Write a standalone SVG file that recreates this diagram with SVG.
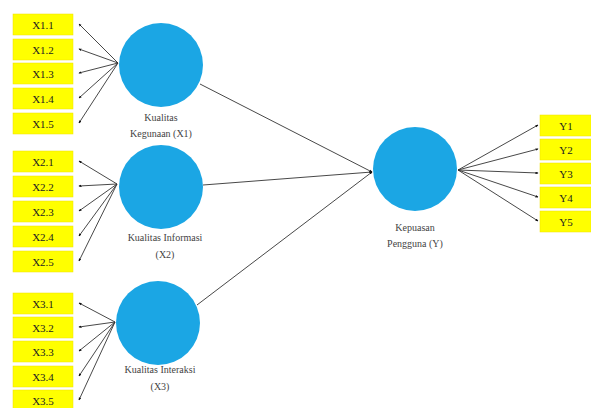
<svg xmlns="http://www.w3.org/2000/svg" width="591" height="408" viewBox="0 0 591 408">
<defs>
<marker id="dot" viewBox="0 0 10 10" refX="8" refY="5" markerWidth="3.5" markerHeight="3.5" orient="auto"><path d="M0,1 L10,5 L0,9 Z" fill="#111"/></marker>
<style>
.box{fill:#FFFF00;stroke:#F0E000;stroke-width:0.5}
.lv{fill:#1BA6E4}
.bt{font-family:'Liberation Serif','Times New Roman','DejaVu Serif',serif;font-size:11px;fill:#222;text-anchor:middle;dominant-baseline:central}
.lt{font-family:'Liberation Serif','Times New Roman','DejaVu Serif',serif;font-size:10px;fill:#444;text-anchor:middle}
.ln{stroke:#333;stroke-width:0.9;fill:none;marker-end:url(#dot)}
</style>
</defs>
<rect width="591" height="408" fill="#fff"/>
<g id="connectors">
<path class="ln" d="M118,63 L79,24"/>
<path class="ln" d="M118,63 L79,49"/>
<path class="ln" d="M118,63 L79,73"/>
<path class="ln" d="M118,63 L79,98"/>
<path class="ln" d="M118,63 L79,123"/>
<path class="ln" d="M117,184 L79,161"/>
<path class="ln" d="M117,184 L79,186"/>
<path class="ln" d="M117,184 L79,211"/>
<path class="ln" d="M117,184 L79,236"/>
<path class="ln" d="M117,184 L79,261"/>
<path class="ln" d="M115,322 L79,303"/>
<path class="ln" d="M115,322 L79,327"/>
<path class="ln" d="M115,322 L79,351"/>
<path class="ln" d="M115,322 L79,376"/>
<path class="ln" d="M115,322 L79,400"/>
<path class="ln" d="M200,84 L372,172"/>
<path class="ln" d="M203,185 L372,172"/>
<path class="ln" d="M197,305 L372,172"/>
<path class="ln" d="M458,170 L538,125"/>
<path class="ln" d="M458,170 L538,149"/>
<path class="ln" d="M458,170 L538,173"/>
<path class="ln" d="M458,170 L538,197"/>
<path class="ln" d="M458,170 L538,221"/>
</g>
<g id="X1">
<circle class="lv" cx="161" cy="65" r="42"/>
<text class="lt" x="161" y="121">Kualitas</text>
<text class="lt" x="161" y="137">Kegunaan (X1)</text>
</g>
<g id="X2">
<circle class="lv" cx="161" cy="187" r="42"/>
<text class="lt" x="165" y="241">Kualitas Informasi</text>
<text class="lt" x="165" y="258">(X2)</text>
</g>
<g id="X3">
<circle class="lv" cx="158" cy="323" r="42"/>
<text class="lt" x="160" y="373">Kualitas Interaksi</text>
<text class="lt" x="160" y="390">(X3)</text>
</g>
<g id="Y">
<circle class="lv" cx="415" cy="169" r="42"/>
<text class="lt" x="415" y="231">Kepuasan</text>
<text class="lt" x="415" y="247">Pengguna (Y)</text>
</g>
<g id="X1.1"><rect class="box" x="13" y="14" width="60" height="21"/><text class="bt" x="43" y="24.5">X1.1</text></g>
<g id="X1.2"><rect class="box" x="13" y="39" width="60" height="21"/><text class="bt" x="43" y="49.5">X1.2</text></g>
<g id="X1.3"><rect class="box" x="13" y="63" width="60" height="21"/><text class="bt" x="43" y="73.5">X1.3</text></g>
<g id="X1.4"><rect class="box" x="13" y="88" width="60" height="21"/><text class="bt" x="43" y="98.5">X1.4</text></g>
<g id="X1.5"><rect class="box" x="13" y="113" width="60" height="21"/><text class="bt" x="43" y="123.5">X1.5</text></g>
<g id="X2.1"><rect class="box" x="13" y="151" width="60" height="21"/><text class="bt" x="43" y="161.5">X2.1</text></g>
<g id="X2.2"><rect class="box" x="13" y="176" width="60" height="21"/><text class="bt" x="43" y="186.5">X2.2</text></g>
<g id="X2.3"><rect class="box" x="13" y="201" width="60" height="21"/><text class="bt" x="43" y="211.5">X2.3</text></g>
<g id="X2.4"><rect class="box" x="13" y="226" width="60" height="21"/><text class="bt" x="43" y="236.5">X2.4</text></g>
<g id="X2.5"><rect class="box" x="13" y="251" width="60" height="21"/><text class="bt" x="43" y="261.5">X2.5</text></g>
<g id="X3.1"><rect class="box" x="13" y="293" width="60" height="21"/><text class="bt" x="43" y="303.5">X3.1</text></g>
<g id="X3.2"><rect class="box" x="13" y="317" width="60" height="21"/><text class="bt" x="43" y="327.5">X3.2</text></g>
<g id="X3.3"><rect class="box" x="13" y="341" width="60" height="21"/><text class="bt" x="43" y="351.5">X3.3</text></g>
<g id="X3.4"><rect class="box" x="13" y="366" width="60" height="21"/><text class="bt" x="43" y="376.5">X3.4</text></g>
<g id="X3.5"><rect class="box" x="13" y="390" width="60" height="21"/><text class="bt" x="43" y="400.5">X3.5</text></g>
<g id="Y1"><rect class="box" x="540" y="115" width="51" height="21"/><text class="bt" x="566" y="125.5">Y1</text></g>
<g id="Y2"><rect class="box" x="540" y="139" width="51" height="21"/><text class="bt" x="566" y="149.5">Y2</text></g>
<g id="Y3"><rect class="box" x="540" y="163" width="51" height="21"/><text class="bt" x="566" y="173.5">Y3</text></g>
<g id="Y4"><rect class="box" x="540" y="187" width="51" height="21"/><text class="bt" x="566" y="197.5">Y4</text></g>
<g id="Y5"><rect class="box" x="540" y="211" width="51" height="21"/><text class="bt" x="566" y="221.5">Y5</text></g>
</svg>
